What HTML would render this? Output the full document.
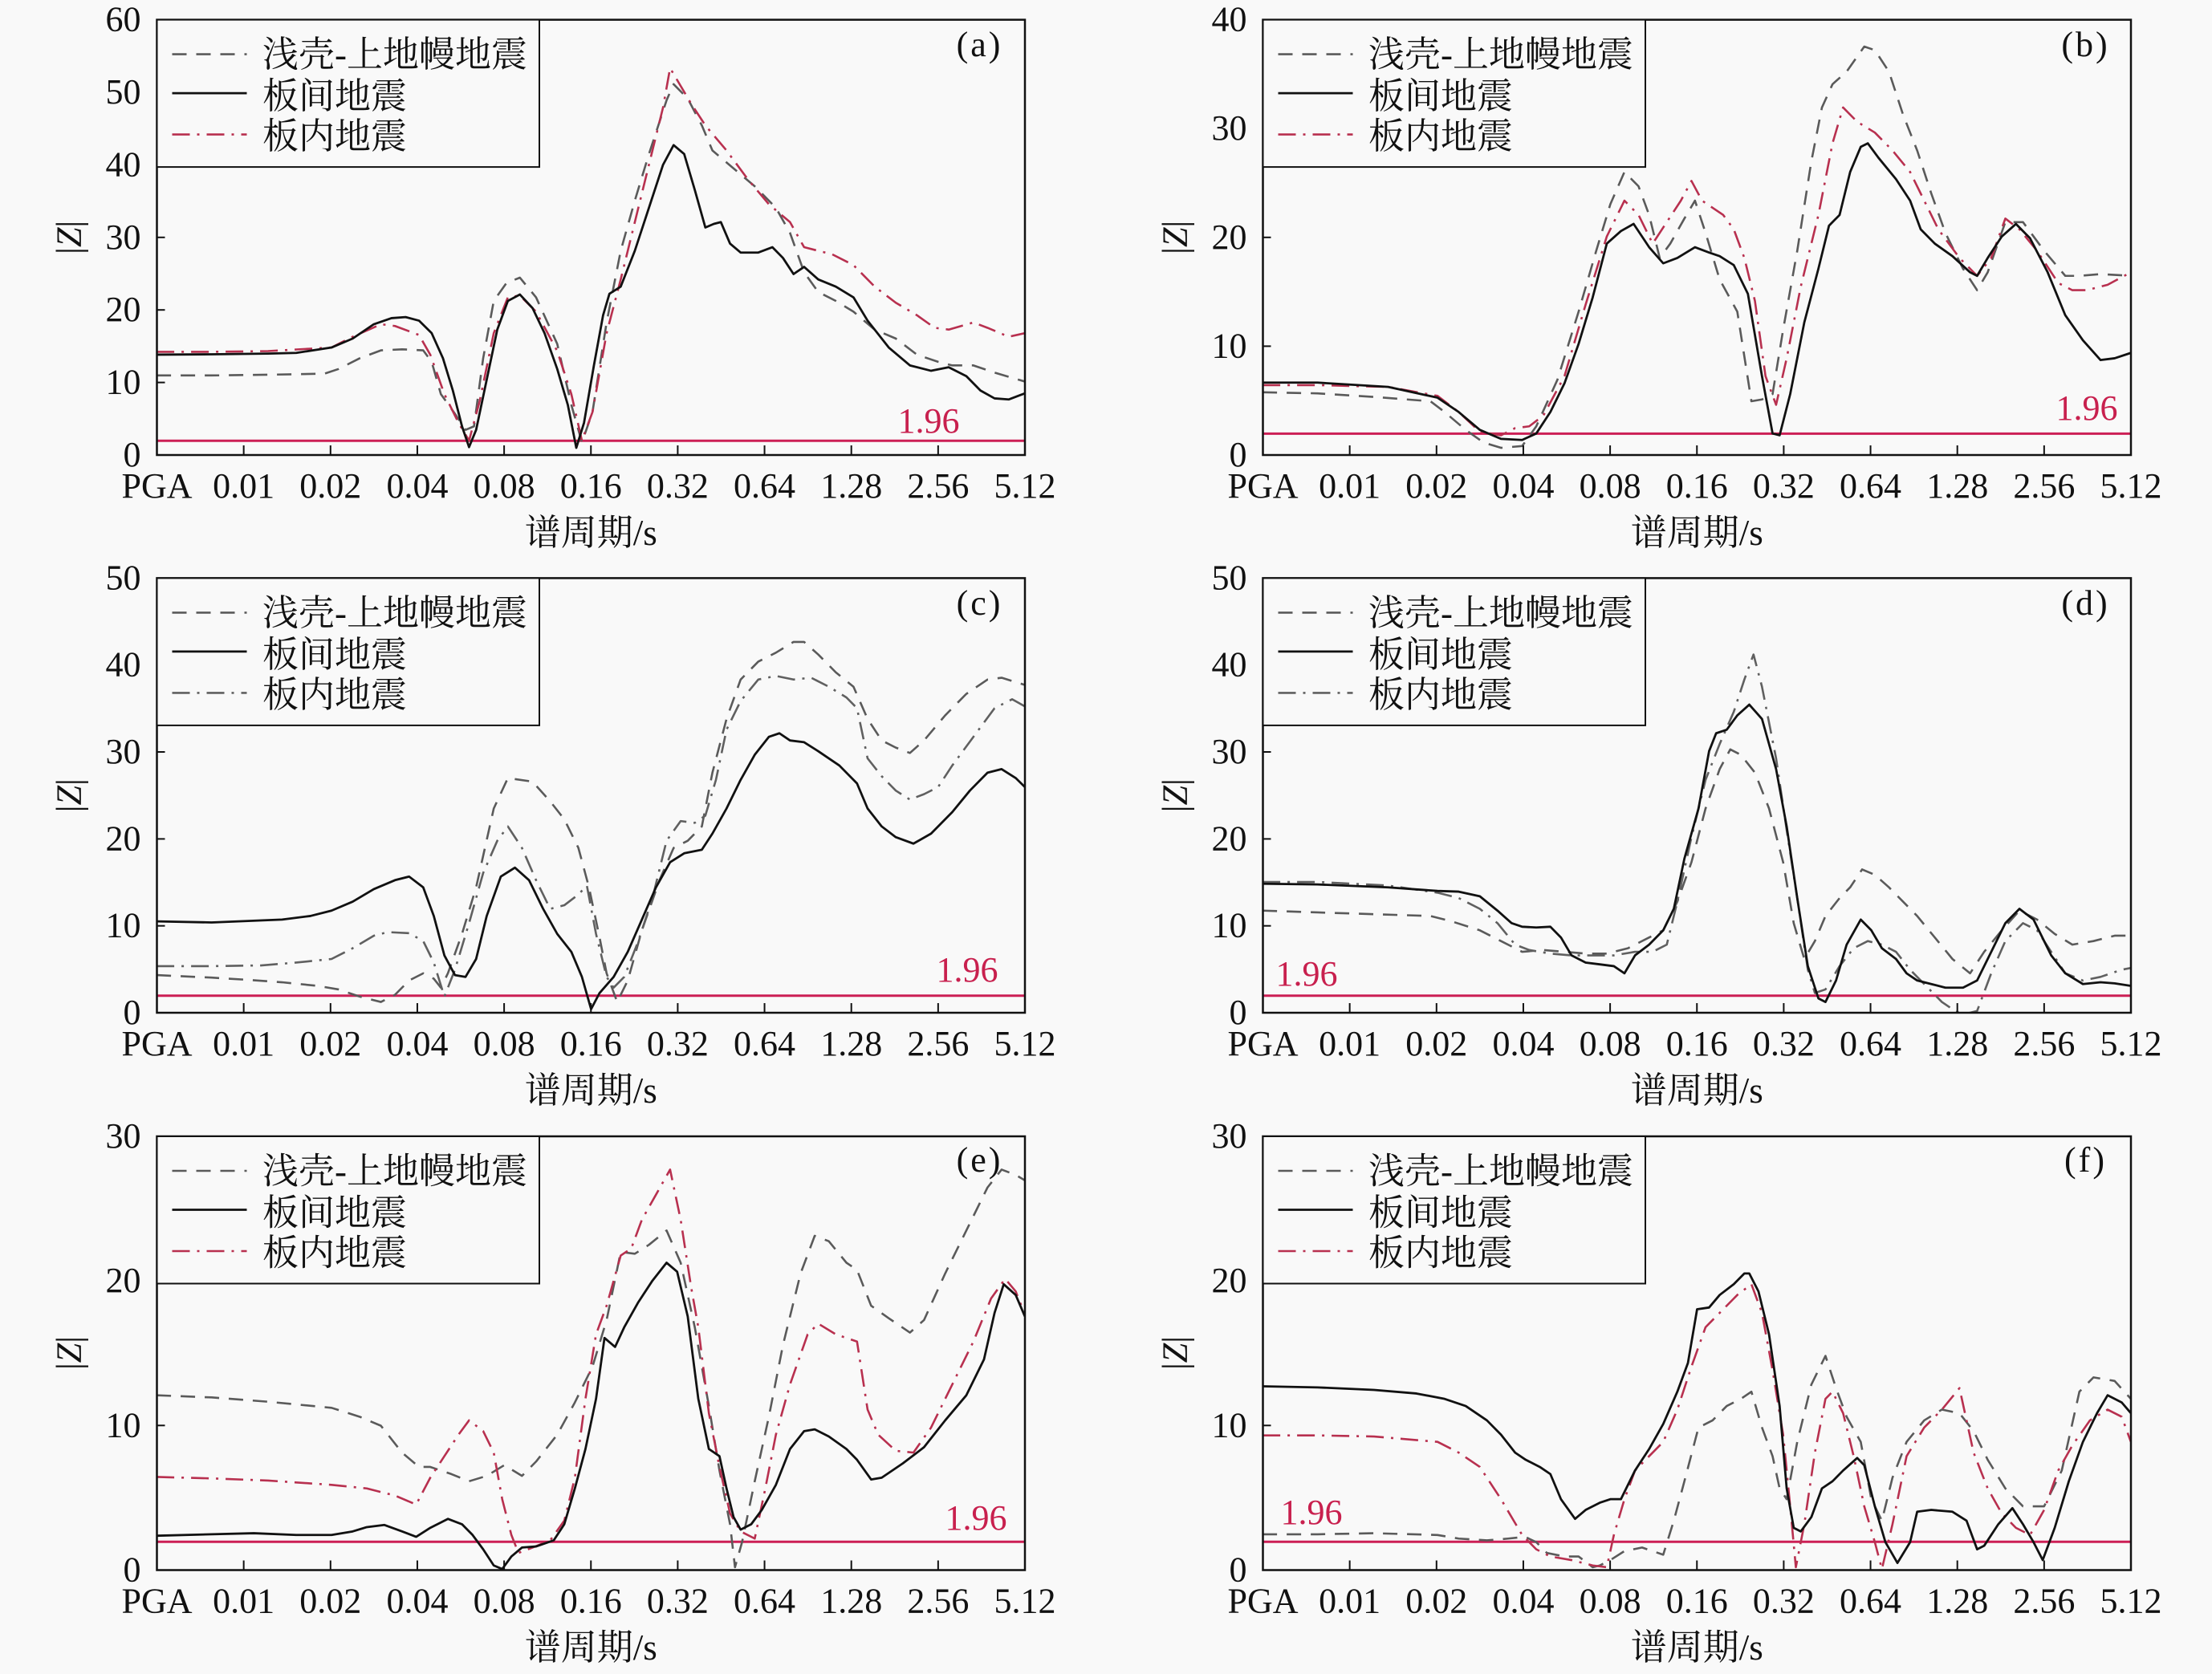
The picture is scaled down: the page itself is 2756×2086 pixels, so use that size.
<!DOCTYPE html>
<html><head><meta charset="utf-8"><style>
html,body{margin:0;padding:0;background:#f9f9f9}
svg{display:block}
.t{font-family:"Liberation Serif","Noto Serif CJK SC",serif;font-size:44px;fill:#111}
.c{font-family:"Liberation Serif","Noto Serif CJK SC",serif;font-size:45px;fill:#111}
.r{font-family:"Liberation Serif",serif;font-size:44px;fill:#c8204e}
.fr{fill:none;stroke:#111;stroke-width:2.5}
.tk{stroke:#111;stroke-width:2}
.lg{fill:#f9f9f9;stroke:#111;stroke-width:2}
.h{stroke:#cc1f55;stroke-width:3}
.s{fill:none;stroke:#111;stroke-width:2.8;stroke-linejoin:round}
.d{fill:none;stroke:#5a5a5a;stroke-width:2.6;stroke-dasharray:18 12;stroke-linejoin:round}
.dd{fill:none;stroke:#b8304f;stroke-width:2.6;stroke-dasharray:22 9 3 9;stroke-linejoin:round}
.dg{fill:none;stroke:#606060;stroke-width:2.6;stroke-dasharray:22 9 3 9;stroke-linejoin:round}
</style></head><body>
<svg width="2756" height="2086" viewBox="0 0 2756 2086" xmlns="http://www.w3.org/2000/svg">
<defs>
<clipPath id="ca"><rect x="195.5" y="24.6" width="1081.5" height="542.4"/></clipPath>
<clipPath id="cb"><rect x="1573.5" y="24.6" width="1081.5" height="542.4"/></clipPath>
<clipPath id="cc"><rect x="195.5" y="720.4" width="1081.5" height="541.6"/></clipPath>
<clipPath id="cd"><rect x="1573.5" y="720.4" width="1081.5" height="541.6"/></clipPath>
<clipPath id="ce"><rect x="195.5" y="1416" width="1081.5" height="540.5"/></clipPath>
<clipPath id="cf"><rect x="1573.5" y="1416" width="1081.5" height="540.5"/></clipPath>
</defs>
<rect width="2756" height="2086" fill="#f9f9f9"/>

<!-- ================= PANEL A ================= -->
<line class="h" x1="195.5" y1="549.3" x2="1277" y2="549.3"/>
<g clip-path="url(#ca)"><g transform="translate(0,0) scale(0.87883,0.446429)">
<polyline class="d" vector-effect="non-scaling-stroke" points="222,1048 300,1048 380,1046 460,1043 480,1030 510,1000 540,978 570,975 600,978 612,1010 625,1100 645,1155 660,1200 672,1190 685,1000 700,840 718,790 737,775 760,830 790,960 810,1130 825,1235 840,1150 860,900 880,700 900,560 920,430 945,280 955,235 975,275 995,350 1010,420 1040,470 1070,520 1100,580 1120,650 1140,760 1160,815 1185,840 1210,870 1240,920 1270,945 1300,990 1330,1010 1350,1020 1380,1020 1410,1040 1453,1065"/>
<polyline class="dd" vector-effect="non-scaling-stroke" points="222,982 300,982 380,980 470,970 500,940 540,905 560,910 594,935 610,990 630,1100 650,1180 665,1230 680,1120 700,930 720,830 737,825 760,870 790,980 810,1100 825,1230 840,1150 860,930 880,780 900,620 920,460 940,300 950,190 965,240 980,290 1000,350 1030,420 1060,500 1090,570 1120,620 1140,690 1180,710 1210,740 1240,800 1270,845 1300,880 1325,915 1345,920 1380,900 1400,915 1430,940 1453,930"/>
<polyline class="s" vector-effect="non-scaling-stroke" points="222,990 300,989 380,987 420,985 470,970 500,945 530,905 555,888 575,885 594,895 612,930 628,1000 642,1090 655,1190 665,1248 675,1200 690,1060 705,920 720,840 737,822 755,860 772,930 790,1030 805,1130 817,1250 828,1180 842,1020 855,880 864,820 880,800 900,700 920,580 940,460 955,405 970,430 985,530 1000,635 1012,625 1022,620 1035,680 1050,705 1075,705 1095,690 1110,720 1125,765 1140,745 1160,780 1185,800 1210,830 1230,895 1260,970 1290,1020 1320,1035 1345,1025 1370,1050 1390,1090 1410,1112 1430,1115 1453,1098"/>
</g></g>
<rect class="fr" x="195.5" y="24.6" width="1081.5" height="542.4"/>
<g class="tk">
<line x1="303.65" y1="567" x2="303.65" y2="555"/><line x1="411.8" y1="567" x2="411.8" y2="555"/><line x1="519.95" y1="567" x2="519.95" y2="555"/><line x1="628.1" y1="567" x2="628.1" y2="555"/><line x1="736.25" y1="567" x2="736.25" y2="555"/><line x1="844.4" y1="567" x2="844.4" y2="555"/><line x1="952.55" y1="567" x2="952.55" y2="555"/><line x1="1060.7" y1="567" x2="1060.7" y2="555"/><line x1="1168.85" y1="567" x2="1168.85" y2="555"/>
<line x1="195.5" y1="476.6" x2="205.5" y2="476.6"/><line x1="195.5" y1="386.2" x2="205.5" y2="386.2"/><line x1="195.5" y1="295.8" x2="205.5" y2="295.8"/><line x1="195.5" y1="205.4" x2="205.5" y2="205.4"/><line x1="195.5" y1="115" x2="205.5" y2="115"/>
</g>
<g class="t" text-anchor="end">
<text x="175.5" y="581">0</text><text x="175.5" y="490.6">10</text><text x="175.5" y="400.2">20</text><text x="175.5" y="309.8">30</text><text x="175.5" y="219.4">40</text><text x="175.5" y="129">50</text><text x="175.5" y="38.6">60</text>
</g>
<g class="t" text-anchor="middle">
<text x="195.5" y="620">PGA</text><text x="303.65" y="620">0.01</text><text x="411.8" y="620">0.02</text><text x="519.95" y="620">0.04</text><text x="628.1" y="620">0.08</text><text x="736.25" y="620">0.16</text><text x="844.4" y="620">0.32</text><text x="952.55" y="620">0.64</text><text x="1060.7" y="620">1.28</text><text x="1168.85" y="620">2.56</text><text x="1277" y="620">5.12</text>
</g>
<text class="c" x="736.25" y="679" text-anchor="middle">谱周期/s</text>
<text class="t" transform="translate(85.5,295.8) rotate(-90)" x="0" y="15" text-anchor="middle">|<tspan font-style="italic">Z</tspan>|</text>
<text class="t" x="1220.5" y="70" text-anchor="middle" letter-spacing="3">(a)</text>
<text class="r" x="1157" y="539" text-anchor="middle">1.96</text>
<rect class="lg" x="195.5" y="24.6" width="476.5" height="183.5"/>
<line class="d" x1="214.5" y1="67.6" x2="307.5" y2="67.6"/>
<line class="s" x1="214.5" y1="116.1" x2="307.5" y2="116.1"/>
<line class="dd" x1="214.5" y1="167.6" x2="307.5" y2="167.6"/>
<text class="c" x="327" y="83">浅壳-上地幔地震</text>
<text class="c" x="327" y="135">板间地震</text>
<text class="c" x="327" y="185">板内地震</text>

<!-- ================= PANEL B ================= -->
<line class="h" x1="1573.5" y1="540.4" x2="2655" y2="540.4"/>
<g clip-path="url(#cb)"><g transform="translate(1378,0) scale(0.87883,0.446429)">
<polyline class="d" vector-effect="non-scaling-stroke" points="222,1095 300,1098 380,1108 460,1120 480,1150 510,1200 535,1235 560,1250 590,1245 610,1190 640,1060 670,870 695,700 715,570 735,480 755,520 770,600 785,720 800,680 820,610 835,560 850,650 870,780 895,870 915,1120 930,1115 945,1100 960,920 980,700 1000,450 1015,300 1030,235 1050,200 1075,130 1090,140 1110,200 1130,320 1150,420 1170,540 1190,650 1215,750 1235,810 1250,760 1275,620 1300,620 1330,700 1360,770 1380,770 1410,765 1453,770"/>
<polyline class="dd" vector-effect="non-scaling-stroke" points="222,1075 300,1075 400,1080 470,1105 500,1150 530,1205 560,1215 580,1195 600,1190 620,1160 650,1050 680,850 710,660 735,560 755,600 775,680 795,620 815,560 830,505 845,560 860,580 875,600 890,640 905,720 920,840 935,1050 950,1130 965,1000 985,800 1010,600 1030,400 1045,300 1065,340 1090,370 1115,420 1140,480 1160,560 1180,640 1210,720 1235,770 1255,720 1275,610 1295,640 1320,700 1350,790 1370,810 1390,810 1420,795 1453,760"/>
<polyline class="s" vector-effect="non-scaling-stroke" points="222,1068 300,1068 400,1080 470,1110 500,1150 530,1200 560,1225 590,1228 610,1210 630,1150 650,1070 670,960 690,830 710,680 730,645 748,625 770,690 790,735 810,720 835,690 855,705 870,715 890,740 910,820 930,1050 945,1210 955,1215 970,1100 990,900 1010,750 1025,630 1040,600 1055,480 1070,410 1080,400 1095,440 1120,500 1140,560 1155,640 1175,680 1200,715 1225,760 1235,770 1250,720 1270,660 1290,625 1310,665 1335,760 1360,880 1385,950 1410,1005 1430,1000 1453,985"/>
</g></g>
<rect class="fr" x="1573.5" y="24.6" width="1081.5" height="542.4"/>
<g class="tk">
<line x1="1681.65" y1="567" x2="1681.65" y2="555"/><line x1="1789.8" y1="567" x2="1789.8" y2="555"/><line x1="1897.95" y1="567" x2="1897.95" y2="555"/><line x1="2006.1" y1="567" x2="2006.1" y2="555"/><line x1="2114.25" y1="567" x2="2114.25" y2="555"/><line x1="2222.4" y1="567" x2="2222.4" y2="555"/><line x1="2330.55" y1="567" x2="2330.55" y2="555"/><line x1="2438.7" y1="567" x2="2438.7" y2="555"/><line x1="2546.85" y1="567" x2="2546.85" y2="555"/>
<line x1="1573.5" y1="431.4" x2="1583.5" y2="431.4"/><line x1="1573.5" y1="295.8" x2="1583.5" y2="295.8"/><line x1="1573.5" y1="160.2" x2="1583.5" y2="160.2"/>
</g>
<g class="t" text-anchor="end">
<text x="1553.5" y="581">0</text><text x="1553.5" y="445.4">10</text><text x="1553.5" y="309.8">20</text><text x="1553.5" y="174.2">30</text><text x="1553.5" y="38.6">40</text>
</g>
<g class="t" text-anchor="middle">
<text x="1573.5" y="620">PGA</text><text x="1681.65" y="620">0.01</text><text x="1789.8" y="620">0.02</text><text x="1897.95" y="620">0.04</text><text x="2006.1" y="620">0.08</text><text x="2114.25" y="620">0.16</text><text x="2222.4" y="620">0.32</text><text x="2330.55" y="620">0.64</text><text x="2438.7" y="620">1.28</text><text x="2546.85" y="620">2.56</text><text x="2655" y="620">5.12</text>
</g>
<text class="c" x="2114.25" y="679" text-anchor="middle">谱周期/s</text>
<text class="t" transform="translate(1463.5,295.8) rotate(-90)" x="0" y="15" text-anchor="middle">|<tspan font-style="italic">Z</tspan>|</text>
<text class="t" x="2598.5" y="70" text-anchor="middle" letter-spacing="3">(b)</text>
<text class="r" x="2600" y="523" text-anchor="middle">1.96</text>
<rect class="lg" x="1573.5" y="24.6" width="476.5" height="183.5"/>
<line class="d" x1="1592.5" y1="67.6" x2="1685.5" y2="67.6"/>
<line class="s" x1="1592.5" y1="116.1" x2="1685.5" y2="116.1"/>
<line class="dd" x1="1592.5" y1="167.6" x2="1685.5" y2="167.6"/>
<text class="c" x="1705" y="83">浅壳-上地幔地震</text>
<text class="c" x="1705" y="135">板间地震</text>
<text class="c" x="1705" y="185">板内地震</text>

<!-- ================= PANEL C ================= -->
<line class="h" x1="195.5" y1="1240.8" x2="1277" y2="1240.8"/>
<g clip-path="url(#cc)"><g transform="translate(0,695) scale(0.87883,0.446429)">
<polyline class="d" vector-effect="non-scaling-stroke" points="222,1165 300,1172 350,1178 400,1185 450,1195 480,1205 510,1225 540,1240 560,1220 580,1180 600,1160 615,1175 625,1200 635,1160 655,1050 675,920 700,700 720,615 755,625 780,680 800,730 820,810 835,920 850,1060 860,1160 875,1240 890,1180 910,1040 935,900 955,810 975,790 995,750 1010,600 1030,450 1050,340 1075,290 1100,265 1125,235 1140,235 1160,270 1185,320 1210,360 1230,450 1250,510 1270,530 1290,545 1310,510 1340,440 1370,380 1400,340 1420,335 1453,355"/>
<polyline class="dg" vector-effect="non-scaling-stroke" points="222,1140 300,1140 370,1138 420,1130 470,1120 500,1090 530,1055 550,1045 580,1048 600,1070 615,1130 630,1225 645,1150 665,1020 685,880 705,790 720,750 740,810 760,900 780,980 800,970 820,940 832,915 845,1050 860,1170 870,1200 885,1170 905,1070 925,950 945,790 965,735 985,740 1000,720 1015,620 1030,480 1050,400 1075,340 1100,330 1125,340 1150,335 1175,360 1200,390 1215,420 1230,560 1250,610 1270,650 1290,675 1310,660 1330,640 1350,580 1380,500 1410,420 1435,395 1453,415"/>
<polyline class="s" vector-effect="non-scaling-stroke" points="222,1015 300,1018 400,1010 440,1000 470,985 500,960 530,925 560,900 580,890 600,920 615,1000 630,1110 645,1165 660,1170 675,1120 690,1000 710,890 730,865 750,900 770,980 790,1050 810,1100 825,1170 838,1260 850,1215 870,1170 890,1100 910,1010 930,920 950,850 970,825 995,815 1010,770 1030,700 1050,620 1070,550 1090,500 1105,490 1120,510 1140,515 1160,540 1190,580 1215,630 1230,700 1250,750 1270,780 1295,798 1320,770 1350,710 1375,650 1400,600 1420,590 1440,615 1453,640"/>
</g></g>
<rect class="fr" x="195.5" y="720.4" width="1081.5" height="541.6"/>
<g class="tk">
<line x1="303.65" y1="1262" x2="303.65" y2="1250"/><line x1="411.8" y1="1262" x2="411.8" y2="1250"/><line x1="519.95" y1="1262" x2="519.95" y2="1250"/><line x1="628.1" y1="1262" x2="628.1" y2="1250"/><line x1="736.25" y1="1262" x2="736.25" y2="1250"/><line x1="844.4" y1="1262" x2="844.4" y2="1250"/><line x1="952.55" y1="1262" x2="952.55" y2="1250"/><line x1="1060.7" y1="1262" x2="1060.7" y2="1250"/><line x1="1168.85" y1="1262" x2="1168.85" y2="1250"/>
<line x1="195.5" y1="1153.7" x2="205.5" y2="1153.7"/><line x1="195.5" y1="1045.4" x2="205.5" y2="1045.4"/><line x1="195.5" y1="937" x2="205.5" y2="937"/><line x1="195.5" y1="828.7" x2="205.5" y2="828.7"/>
</g>
<g class="t" text-anchor="end">
<text x="175.5" y="1276">0</text><text x="175.5" y="1167.7">10</text><text x="175.5" y="1059.4">20</text><text x="175.5" y="951">30</text><text x="175.5" y="842.7">40</text><text x="175.5" y="734.4">50</text>
</g>
<g class="t" text-anchor="middle">
<text x="195.5" y="1315">PGA</text><text x="303.65" y="1315">0.01</text><text x="411.8" y="1315">0.02</text><text x="519.95" y="1315">0.04</text><text x="628.1" y="1315">0.08</text><text x="736.25" y="1315">0.16</text><text x="844.4" y="1315">0.32</text><text x="952.55" y="1315">0.64</text><text x="1060.7" y="1315">1.28</text><text x="1168.85" y="1315">2.56</text><text x="1277" y="1315">5.12</text>
</g>
<text class="c" x="736.25" y="1374" text-anchor="middle">谱周期/s</text>
<text class="t" transform="translate(85.5,991.2) rotate(-90)" x="0" y="15" text-anchor="middle">|<tspan font-style="italic">Z</tspan>|</text>
<text class="t" x="1220.5" y="766" text-anchor="middle" letter-spacing="3">(c)</text>
<text class="r" x="1205" y="1223" text-anchor="middle">1.96</text>
<rect class="lg" x="195.5" y="720.4" width="476.5" height="183.5"/>
<line class="d" x1="214.5" y1="763.4" x2="307.5" y2="763.4"/>
<line class="s" x1="214.5" y1="811.9" x2="307.5" y2="811.9"/>
<line class="dg" x1="214.5" y1="863.4" x2="307.5" y2="863.4"/>
<text class="c" x="327" y="778.8">浅壳-上地幔地震</text>
<text class="c" x="327" y="830.8">板间地震</text>
<text class="c" x="327" y="880.8">板内地震</text>

<!-- ================= PANEL D ================= -->
<line class="h" x1="1573.5" y1="1240.8" x2="2655" y2="1240.8"/>
<g clip-path="url(#cd)"><g transform="translate(1378,695) scale(0.87883,0.446429)">
<polyline class="d" vector-effect="non-scaling-stroke" points="222,985 300,990 380,995 460,1000 490,1015 530,1040 560,1070 590,1100 620,1095 650,1100 680,1105 710,1105 740,1090 770,1060 790,1040 810,960 830,850 850,700 870,590 885,535 900,550 920,600 940,700 960,850 975,1020 990,1120 1005,1070 1020,1000 1040,950 1055,920 1072,870 1090,885 1110,920 1130,960 1150,1000 1175,1060 1200,1120 1225,1160 1245,1100 1270,1040 1295,985 1320,1010 1345,1050 1370,1080 1400,1070 1430,1055 1453,1055"/>
<polyline class="dg" vector-effect="non-scaling-stroke" points="222,905 300,905 400,915 470,935 500,950 530,980 555,1020 580,1080 600,1095 630,1105 660,1110 690,1110 720,1110 750,1100 775,1100 795,1080 810,960 830,780 850,620 870,520 890,430 905,340 918,270 930,360 950,560 965,760 980,950 995,1150 1005,1215 1020,1205 1040,1140 1060,1090 1080,1070 1100,1080 1120,1100 1140,1150 1165,1200 1185,1240 1200,1260 1215,1275 1235,1265 1255,1160 1275,1070 1300,1020 1320,1040 1340,1100 1360,1160 1385,1180 1410,1170 1440,1150 1453,1145"/>
<polyline class="s" vector-effect="non-scaling-stroke" points="222,910 300,912 400,920 470,930 500,932 530,945 555,985 575,1020 590,1030 610,1032 630,1030 645,1060 660,1110 680,1130 700,1135 720,1140 735,1160 750,1110 770,1080 790,1040 805,980 820,840 840,700 855,540 865,490 880,480 895,440 912,410 930,450 950,590 965,750 980,950 995,1140 1010,1230 1020,1240 1035,1180 1050,1080 1070,1010 1085,1040 1100,1090 1120,1120 1135,1160 1150,1180 1170,1190 1190,1200 1215,1200 1235,1180 1255,1100 1275,1020 1295,980 1315,1010 1340,1110 1360,1160 1385,1190 1410,1185 1430,1188 1453,1195"/>
</g></g>
<rect class="fr" x="1573.5" y="720.4" width="1081.5" height="541.6"/>
<g class="tk">
<line x1="1681.65" y1="1262" x2="1681.65" y2="1250"/><line x1="1789.8" y1="1262" x2="1789.8" y2="1250"/><line x1="1897.95" y1="1262" x2="1897.95" y2="1250"/><line x1="2006.1" y1="1262" x2="2006.1" y2="1250"/><line x1="2114.25" y1="1262" x2="2114.25" y2="1250"/><line x1="2222.4" y1="1262" x2="2222.4" y2="1250"/><line x1="2330.55" y1="1262" x2="2330.55" y2="1250"/><line x1="2438.7" y1="1262" x2="2438.7" y2="1250"/><line x1="2546.85" y1="1262" x2="2546.85" y2="1250"/>
<line x1="1573.5" y1="1153.7" x2="1583.5" y2="1153.7"/><line x1="1573.5" y1="1045.4" x2="1583.5" y2="1045.4"/><line x1="1573.5" y1="937" x2="1583.5" y2="937"/><line x1="1573.5" y1="828.7" x2="1583.5" y2="828.7"/>
</g>
<g class="t" text-anchor="end">
<text x="1553.5" y="1276">0</text><text x="1553.5" y="1167.7">10</text><text x="1553.5" y="1059.4">20</text><text x="1553.5" y="951">30</text><text x="1553.5" y="842.7">40</text><text x="1553.5" y="734.4">50</text>
</g>
<g class="t" text-anchor="middle">
<text x="1573.5" y="1315">PGA</text><text x="1681.65" y="1315">0.01</text><text x="1789.8" y="1315">0.02</text><text x="1897.95" y="1315">0.04</text><text x="2006.1" y="1315">0.08</text><text x="2114.25" y="1315">0.16</text><text x="2222.4" y="1315">0.32</text><text x="2330.55" y="1315">0.64</text><text x="2438.7" y="1315">1.28</text><text x="2546.85" y="1315">2.56</text><text x="2655" y="1315">5.12</text>
</g>
<text class="c" x="2114.25" y="1374" text-anchor="middle">谱周期/s</text>
<text class="t" transform="translate(1463.5,991.2) rotate(-90)" x="0" y="15" text-anchor="middle">|<tspan font-style="italic">Z</tspan>|</text>
<text class="t" x="2598.5" y="766" text-anchor="middle" letter-spacing="3">(d)</text>
<text class="r" x="1628" y="1228" text-anchor="middle">1.96</text>
<rect class="lg" x="1573.5" y="720.4" width="476.5" height="183.5"/>
<line class="d" x1="1592.5" y1="763.4" x2="1685.5" y2="763.4"/>
<line class="s" x1="1592.5" y1="811.9" x2="1685.5" y2="811.9"/>
<line class="dg" x1="1592.5" y1="863.4" x2="1685.5" y2="863.4"/>
<text class="c" x="1705" y="778.8">浅壳-上地幔地震</text>
<text class="c" x="1705" y="830.8">板间地震</text>
<text class="c" x="1705" y="880.8">板内地震</text>

<!-- ================= PANEL E ================= -->
<line class="h" x1="195.5" y1="1921.2" x2="1277" y2="1921.2"/>
<g clip-path="url(#ce)"><g transform="translate(0,1386) scale(0.87883,0.446429)">
<polyline class="d" vector-effect="non-scaling-stroke" points="222,790 300,796 380,808 470,825 510,850 540,875 570,950 594,990 610,990 640,1010 665,1030 690,1015 715,985 740,1015 760,975 790,900 815,810 840,710 860,580 880,390 900,395 920,370 945,330 965,420 985,600 1005,820 1020,1000 1035,1150 1042,1270 1052,1200 1070,1030 1090,850 1110,650 1135,450 1155,345 1175,360 1200,420 1215,440 1235,540 1260,575 1290,615 1310,580 1340,450 1370,330 1400,210 1420,160 1440,175 1453,190"/>
<polyline class="dd" vector-effect="non-scaling-stroke" points="222,1018 300,1022 380,1028 470,1040 520,1050 560,1070 590,1095 610,1020 630,960 650,900 665,860 685,890 700,950 712,1080 725,1180 735,1230 755,1215 780,1195 800,1140 815,1020 830,800 845,620 860,540 880,400 895,380 910,300 930,230 950,160 965,300 980,490 990,600 1005,840 1020,990 1035,1120 1050,1170 1070,1190 1085,1050 1100,900 1120,760 1145,620 1160,590 1185,620 1215,640 1230,830 1245,900 1270,945 1295,950 1320,880 1350,760 1380,640 1405,520 1425,465 1440,500 1453,565"/>
<polyline class="s" vector-effect="non-scaling-stroke" points="222,1182 300,1178 360,1175 420,1180 470,1180 500,1170 520,1158 545,1152 570,1170 590,1185 610,1160 635,1135 655,1150 670,1180 685,1220 700,1265 712,1275 725,1240 740,1215 760,1212 785,1195 800,1150 815,1050 830,940 845,800 857,630 872,655 885,600 905,530 925,470 945,420 960,445 975,570 990,800 1005,940 1020,960 1030,1050 1040,1130 1050,1165 1065,1150 1080,1110 1100,1040 1120,940 1140,890 1155,885 1175,905 1200,940 1215,970 1235,1025 1250,1020 1280,980 1310,935 1340,860 1370,790 1395,690 1410,560 1423,480 1440,510 1453,570"/>
</g></g>
<rect class="fr" x="195.5" y="1416" width="1081.5" height="540.5"/>
<g class="tk">
<line x1="303.65" y1="1956.5" x2="303.65" y2="1944.5"/><line x1="411.8" y1="1956.5" x2="411.8" y2="1944.5"/><line x1="519.95" y1="1956.5" x2="519.95" y2="1944.5"/><line x1="628.1" y1="1956.5" x2="628.1" y2="1944.5"/><line x1="736.25" y1="1956.5" x2="736.25" y2="1944.5"/><line x1="844.4" y1="1956.5" x2="844.4" y2="1944.5"/><line x1="952.55" y1="1956.5" x2="952.55" y2="1944.5"/><line x1="1060.7" y1="1956.5" x2="1060.7" y2="1944.5"/><line x1="1168.85" y1="1956.5" x2="1168.85" y2="1944.5"/>
<line x1="195.5" y1="1776.3" x2="205.5" y2="1776.3"/><line x1="195.5" y1="1596.2" x2="205.5" y2="1596.2"/>
</g>
<g class="t" text-anchor="end">
<text x="175.5" y="1970.5">0</text><text x="175.5" y="1790.3">10</text><text x="175.5" y="1610.2">20</text><text x="175.5" y="1430">30</text>
</g>
<g class="t" text-anchor="middle">
<text x="195.5" y="2009.5">PGA</text><text x="303.65" y="2009.5">0.01</text><text x="411.8" y="2009.5">0.02</text><text x="519.95" y="2009.5">0.04</text><text x="628.1" y="2009.5">0.08</text><text x="736.25" y="2009.5">0.16</text><text x="844.4" y="2009.5">0.32</text><text x="952.55" y="2009.5">0.64</text><text x="1060.7" y="2009.5">1.28</text><text x="1168.85" y="2009.5">2.56</text><text x="1277" y="2009.5">5.12</text>
</g>
<text class="c" x="736.25" y="2068" text-anchor="middle">谱周期/s</text>
<text class="t" transform="translate(85.5,1686) rotate(-90)" x="0" y="15" text-anchor="middle">|<tspan font-style="italic">Z</tspan>|</text>
<text class="t" x="1220.5" y="1460" text-anchor="middle" letter-spacing="3">(e)</text>
<text class="r" x="1216" y="1906" text-anchor="middle">1.96</text>
<rect class="lg" x="195.5" y="1416" width="476.5" height="183.5"/>
<line class="d" x1="214.5" y1="1459" x2="307.5" y2="1459"/>
<line class="s" x1="214.5" y1="1507.5" x2="307.5" y2="1507.5"/>
<line class="dd" x1="214.5" y1="1559" x2="307.5" y2="1559"/>
<text class="c" x="327" y="1474.4">浅壳-上地幔地震</text>
<text class="c" x="327" y="1526.4">板间地震</text>
<text class="c" x="327" y="1576.4">板内地震</text>

<!-- ================= PANEL F ================= -->
<line class="h" x1="1573.5" y1="1921.2" x2="2655" y2="1921.2"/>
<g clip-path="url(#cf)"><g transform="translate(1378,1386) scale(0.87883,0.446429)">
<polyline class="d" vector-effect="non-scaling-stroke" points="222,1178 300,1178 380,1175 470,1180 500,1190 540,1195 570,1190 594,1185 610,1200 625,1230 650,1240 670,1240 690,1270 700,1265 715,1250 735,1225 760,1215 790,1235 805,1140 820,1030 840,880 860,860 880,820 900,800 915,780 930,880 945,960 955,1050 965,1080 980,920 1000,760 1020,680 1035,770 1050,850 1070,920 1085,1080 1100,1140 1115,1020 1135,920 1160,860 1185,830 1210,840 1230,890 1250,970 1275,1050 1300,1100 1330,1100 1355,1000 1380,780 1400,740 1430,750 1453,800"/>
<polyline class="dd" vector-effect="non-scaling-stroke" points="222,902 300,902 380,905 470,920 500,950 530,990 560,1080 590,1180 610,1220 630,1240 660,1250 690,1265 710,1270 720,1180 735,1080 750,1000 770,960 790,920 810,830 830,710 850,600 870,560 895,510 915,480 930,560 945,720 960,900 970,1100 978,1270 990,1150 1005,950 1020,800 1030,780 1045,840 1060,960 1075,1100 1090,1200 1100,1275 1115,1150 1135,960 1160,880 1185,830 1210,770 1230,950 1250,1050 1270,1120 1290,1160 1310,1180 1330,1110 1350,1000 1370,930 1395,860 1420,830 1440,850 1453,920"/>
<polyline class="s" vector-effect="non-scaling-stroke" points="222,765 300,768 380,775 440,785 480,800 510,820 540,860 560,900 580,950 595,970 615,990 630,1010 645,1080 665,1135 680,1110 700,1090 715,1080 730,1080 750,1000 770,940 790,870 810,780 825,700 838,550 855,545 870,510 890,480 905,450 912,450 925,500 940,620 955,820 965,1050 975,1160 985,1170 1000,1130 1015,1050 1030,1030 1045,1000 1065,965 1075,985 1090,1100 1105,1200 1122,1258 1140,1200 1150,1115 1170,1110 1200,1115 1220,1140 1235,1220 1245,1210 1265,1150 1285,1105 1300,1150 1315,1200 1328,1250 1345,1160 1365,1030 1385,920 1405,840 1420,790 1440,810 1453,840"/>
</g></g>
<rect class="fr" x="1573.5" y="1416" width="1081.5" height="540.5"/>
<g class="tk">
<line x1="1681.65" y1="1956.5" x2="1681.65" y2="1944.5"/><line x1="1789.8" y1="1956.5" x2="1789.8" y2="1944.5"/><line x1="1897.95" y1="1956.5" x2="1897.95" y2="1944.5"/><line x1="2006.1" y1="1956.5" x2="2006.1" y2="1944.5"/><line x1="2114.25" y1="1956.5" x2="2114.25" y2="1944.5"/><line x1="2222.4" y1="1956.5" x2="2222.4" y2="1944.5"/><line x1="2330.55" y1="1956.5" x2="2330.55" y2="1944.5"/><line x1="2438.7" y1="1956.5" x2="2438.7" y2="1944.5"/><line x1="2546.85" y1="1956.5" x2="2546.85" y2="1944.5"/>
<line x1="1573.5" y1="1776.3" x2="1583.5" y2="1776.3"/><line x1="1573.5" y1="1596.2" x2="1583.5" y2="1596.2"/>
</g>
<g class="t" text-anchor="end">
<text x="1553.5" y="1970.5">0</text><text x="1553.5" y="1790.3">10</text><text x="1553.5" y="1610.2">20</text><text x="1553.5" y="1430">30</text>
</g>
<g class="t" text-anchor="middle">
<text x="1573.5" y="2009.5">PGA</text><text x="1681.65" y="2009.5">0.01</text><text x="1789.8" y="2009.5">0.02</text><text x="1897.95" y="2009.5">0.04</text><text x="2006.1" y="2009.5">0.08</text><text x="2114.25" y="2009.5">0.16</text><text x="2222.4" y="2009.5">0.32</text><text x="2330.55" y="2009.5">0.64</text><text x="2438.7" y="2009.5">1.28</text><text x="2546.85" y="2009.5">2.56</text><text x="2655" y="2009.5">5.12</text>
</g>
<text class="c" x="2114.25" y="2068" text-anchor="middle">谱周期/s</text>
<text class="t" transform="translate(1463.5,1686) rotate(-90)" x="0" y="15" text-anchor="middle">|<tspan font-style="italic">Z</tspan>|</text>
<text class="t" x="2598.5" y="1460" text-anchor="middle" letter-spacing="3">(f)</text>
<text class="r" x="1634" y="1899" text-anchor="middle">1.96</text>
<rect class="lg" x="1573.5" y="1416" width="476.5" height="183.5"/>
<line class="d" x1="1592.5" y1="1459" x2="1685.5" y2="1459"/>
<line class="s" x1="1592.5" y1="1507.5" x2="1685.5" y2="1507.5"/>
<line class="dd" x1="1592.5" y1="1559" x2="1685.5" y2="1559"/>
<text class="c" x="1705" y="1474.4">浅壳-上地幔地震</text>
<text class="c" x="1705" y="1526.4">板间地震</text>
<text class="c" x="1705" y="1576.4">板内地震</text>
</svg>
</body></html>
